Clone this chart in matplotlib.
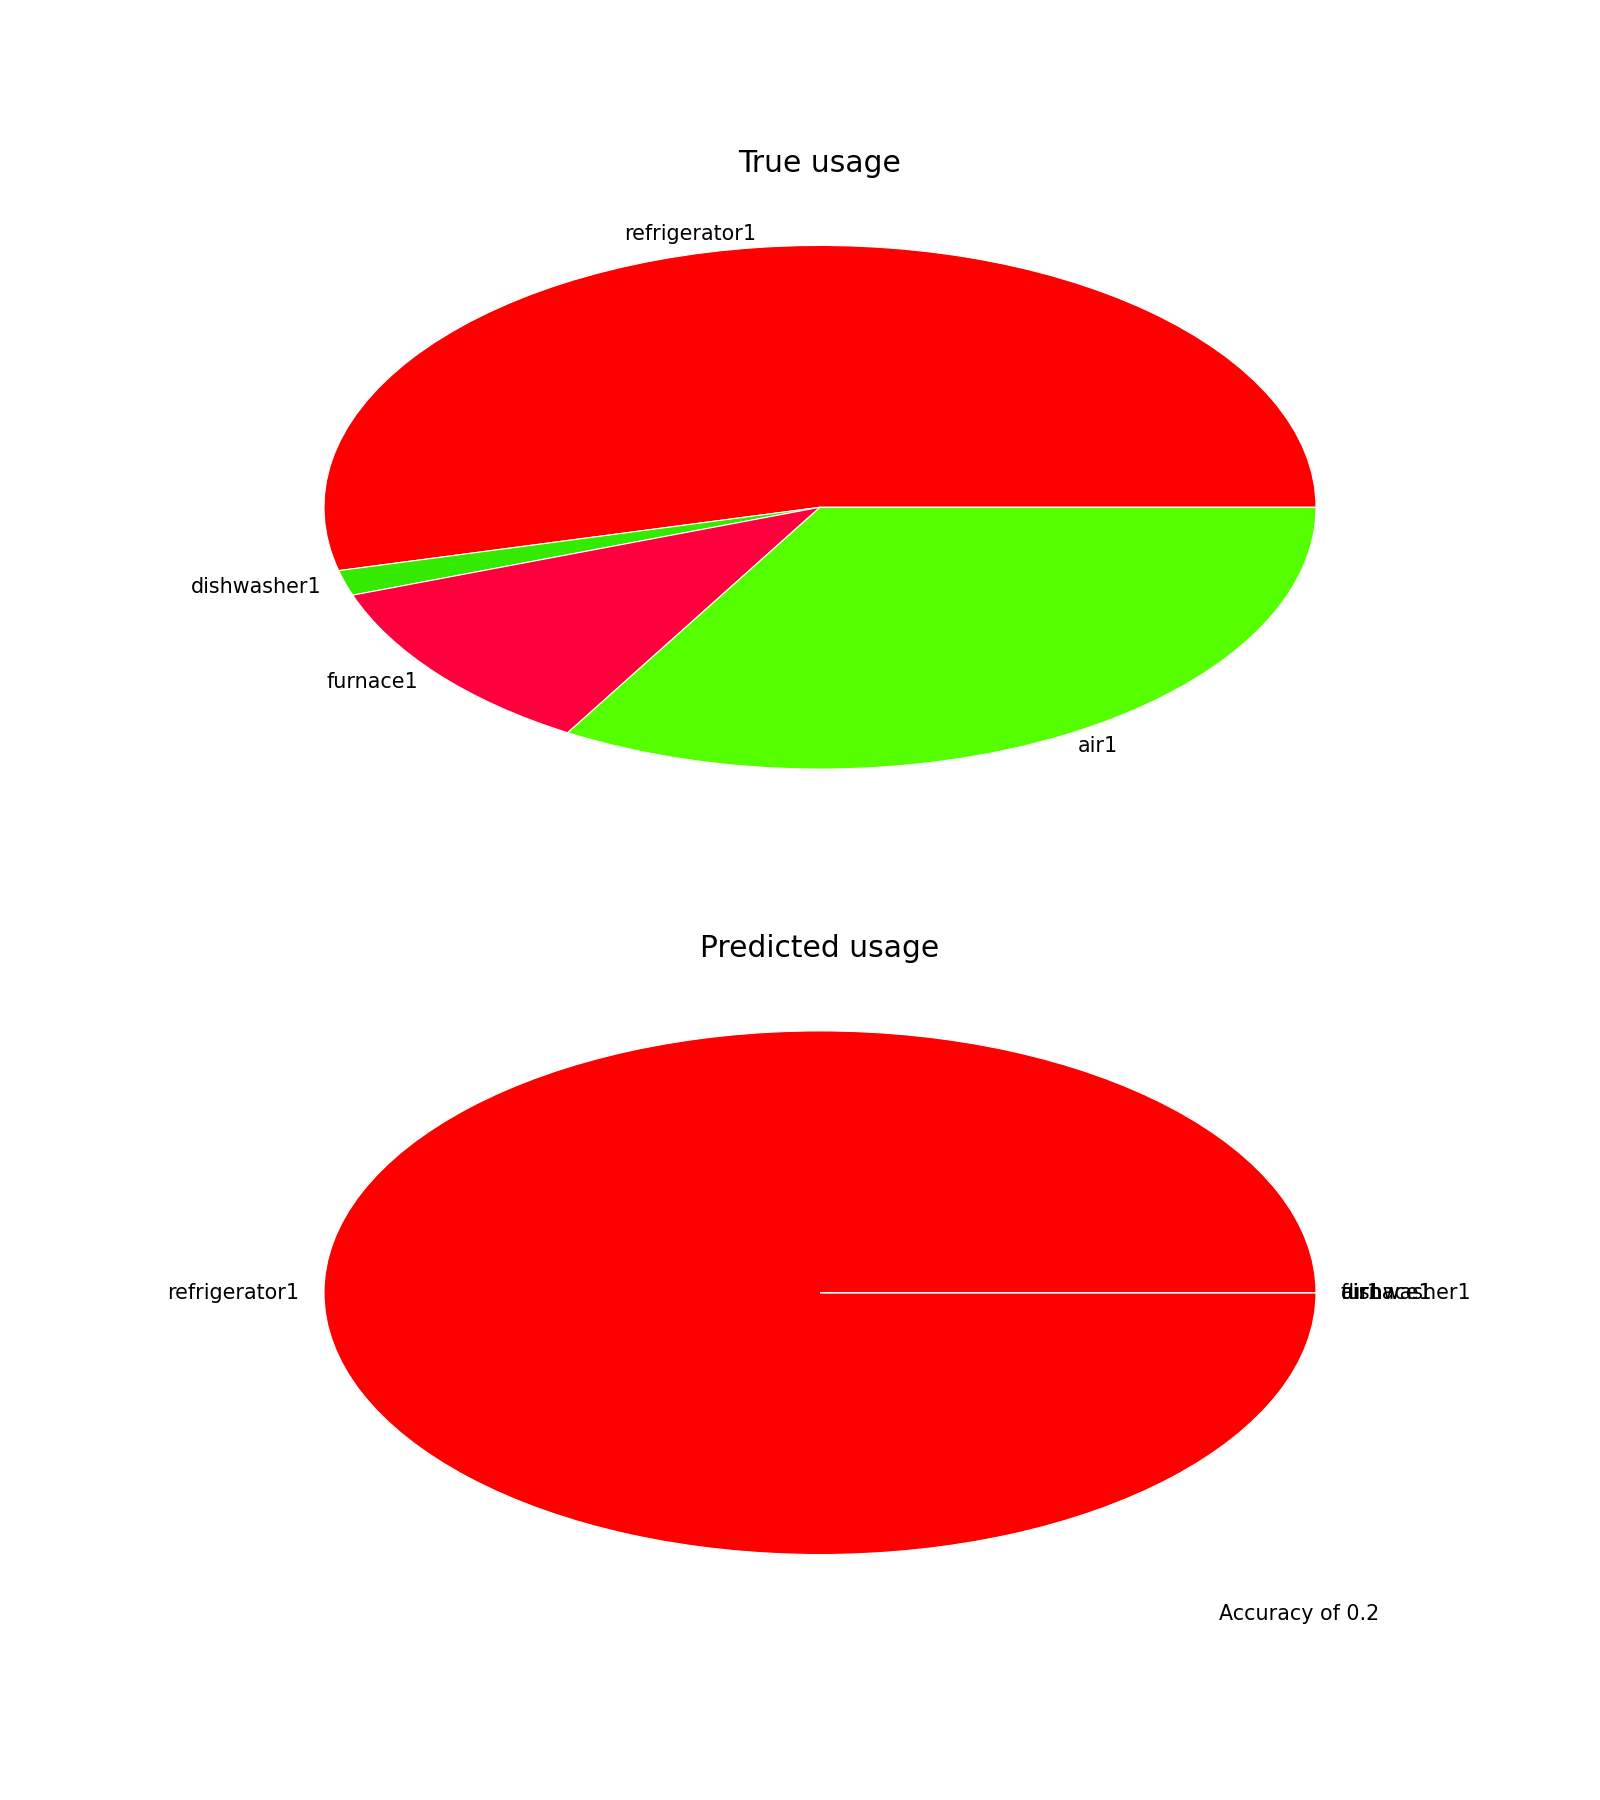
import numpy as np
import matplotlib
matplotlib.use("Agg")
import matplotlib.pyplot as plt

labels = ['refrigerator1', 'dishwasher1', 'furnace1', 'air1']
true_usage = [0.539, 0.0156, 0.1106, 0.335]
pred_usage = [1.0, 0.0, 0.0, 0.0]
colors = ['#ff0000', '#33ea00', '#ff003f', '#55ff00']
accuracy = 0.2

fig, (ax1, ax2) = plt.subplots(2, 1, figsize=(16, 18), dpi=100)
plt.subplots_adjust(top=0.9, bottom=0.1, hspace=0.2)

wp = {'edgecolor': 'white', 'linewidth': 0.8}
tp = {'fontsize': 14.9}

ax1.pie(true_usage, labels=labels, colors=colors, labeldistance=1.05,
        wedgeprops=wp, textprops=tp)
ax1.set_aspect('auto')
ax1.set_title('True usage', fontsize=21.4)

# 예측값은 냉장고만 100%
ax2.pie(pred_usage, labels=labels, colors=colors, labeldistance=1.05,
        wedgeprops=wp, textprops=tp)
ax2.set_aspect('auto')
ax2.set_title('Predicted usage', fontsize=21.4)

# 정확도 표시
fig.text(0.762, 0.1, f'Accuracy of {accuracy}', fontsize=14.9)

plt.savefig('out.png')
